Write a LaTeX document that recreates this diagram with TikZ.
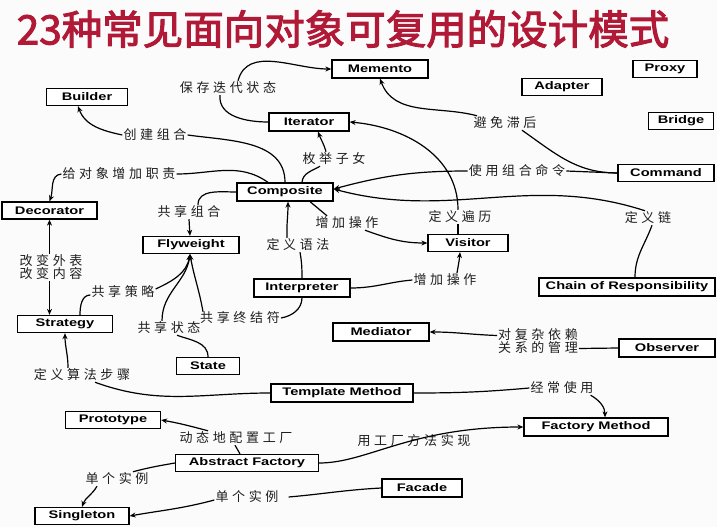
\documentclass[tikz,border=0pt]{standalone}
\usepackage{fontspec}
\usetikzlibrary{arrows.meta}
\newfontfamily\cjk{Noto Sans CJK SC}[LetterSpace=28]
\newfontfamily\titlef{Noto Sans CJK SC}[FakeBold=2.5]
\newfontfamily\boxf{Liberation Sans}[FakeStretch=1.33]
\definecolor{titlered}{RGB}{176,26,54}
\definecolor{bg}{RGB}{251,251,251}
\begin{document}
\begin{tikzpicture}[x=1pt,y=-1pt,
  box/.style={draw, line width=1.3pt, fill=white, font=\boxf\bfseries\fontsize{11}{11}\selectfont, inner sep=0pt, minimum height=18pt},
  lbl/.style={font=\cjk\fontsize{13}{13}\selectfont, inner sep=1pt, text=black!88},
  con/.style={line width=1.2pt},
  arr/.style={con, -{Stealth[length=6pt,width=5pt]}},
]
\fill[bg] (0,0) rectangle (717,527);
\useasboundingbox (0,0) rectangle (717,527);

\node[font=\titlef\fontsize{40.5}{40.5}\selectfont, text=titlered, inner sep=0pt] (title) at (343,29) {23种常见面向对象可复用的设计模式};

% boxes
\node[box, minimum width=96pt] (memento) at (380,69) {Memento};
\node[box, minimum width=64pt, minimum height=17pt] (proxy) at (665,69) {Proxy};
\node[box, minimum width=80pt, minimum height=17pt] (adapter) at (562,87) {Adapter};
\node[box, minimum width=65pt, minimum height=17pt] (bridge) at (681,121) {Bridge};
\node[box, minimum width=81pt, minimum height=17pt] (builder) at (87,97) {Builder};
\node[box, minimum width=80pt] (iterator) at (309,122) {Iterator};
\node[box, minimum width=96pt] (composite) at (285,192) {Composite};
\node[box, minimum width=96pt, minimum height=17pt] (command) at (666,173) {Command};
\node[box, minimum width=95pt, minimum height=17pt] (decorator) at (49.5,210.5) {Decorator};
\node[box, minimum width=96pt, minimum height=17pt] (flyweight) at (191,245) {Flyweight};
\node[box, minimum width=96pt] (interpreter) at (302,288) {Interpreter};
\node[box, minimum width=80pt, minimum height=17pt] (visitor) at (468,243) {Visitor};
\node[box, minimum width=176pt] (chain) at (627,287) {Chain of Responsibility};
\node[box, minimum width=95pt, minimum height=17pt] (strategy) at (65,324) {Strategy};
\node[box, minimum width=63pt, minimum height=17pt] (state) at (208,366) {State};
\node[box, minimum width=96pt] (mediator) at (381,332) {Mediator};
\node[box, minimum width=96pt] (observer) at (667,348) {Observer};
\node[box, minimum width=142pt] (template) at (342,393) {Template Method};
\node[box, minimum width=95pt, minimum height=17pt] (prototype) at (113,420) {Prototype};
\node[box, minimum width=143pt, minimum height=17pt] (abstract) at (247,463) {Abstract Factory};
\node[box, minimum width=144pt] (factorym) at (596,427) {Factory Method};
\node[box, minimum width=80pt] (facade) at (422,488) {Facade};
\node[box, minimum width=94pt, minimum height=17pt] (singleton) at (82,516) {Singleton};

% labels
\node[lbl] (lsave) at (228,88) {保存迭代状态};
\node[lbl] (lbuild) at (155,135) {创建组合};
\node[lbl] (ldeco) at (119,174) {给对象增加职责};
\node[lbl] (lenum) at (334,159) {枚举子女};
\node[lbl] (lavoid) at (505,123) {避免滞后};
\node[lbl] (lcmd) at (517,171) {使用组合命令};
\node[lbl] (lsharecomp) at (189,212) {共享组合};
\node[lbl] (ladd1) at (347,223) {增加操作};
\node[lbl] (ltrav) at (460,217) {定义遍历};
\node[lbl] (lchain) at (648,218) {定义链};
\node[lbl, align=center] (lchg) at (51,267.5) {改变外表\\[0pt]改变内容};
\node[lbl] (lgram) at (298,245) {定义语法};
\node[lbl] (ladd2) at (445,280) {增加操作};
\node[lbl] (lstrat) at (123,292) {共享策略};
\node[lbl] (lterm) at (240,318) {共享终结符};
\node[lbl] (lstate) at (169,328) {共享状态};
\node[lbl, align=center] (lobs) at (538,341.5) {对复杂依赖\\[0pt]关系的管理};
\node[lbl] (lalgo) at (82,375) {定义算法步骤};
\node[lbl] (lfreq) at (562,388) {经常使用};
\node[lbl] (lconf) at (236,438) {动态地配置工厂};
\node[lbl] (lfimpl) at (414,441) {用工厂方法实现};
\node[lbl] (lsing1) at (117,479) {单个实例};
\node[lbl] (lsing2) at (247,497) {单个实例};

% connectors
% Iterator -> Memento
\draw[con] ([xshift=-8pt]lsave.south) to[out=-95,in=180] (iterator.west);
\draw[arr] ([xshift=10pt]lsave.north) to[out=75,in=180] (memento.west);
% Composite -> Builder
\draw[con] (lbuild.east) to[out=-8,in=90] (composite.north);
\draw[arr] (lbuild.west) to[out=168,in=-70] ([xshift=-9pt]builder.south);
% Composite -> Decorator
\draw[con] (ldeco.east) to[out=0,in=145] ([xshift=-17pt]composite.north);
\draw[arr] (ldeco.west) to[out=185,in=70] (decorator.north);
% Composite -> Iterator
\draw[con] ([xshift=17pt]composite.north) to[out=85,in=-150] ([xshift=-14pt]lenum.south);
\draw[arr] ([xshift=-8pt]lenum.north) to[out=105,in=-70] ([xshift=9pt]iterator.south);
% Command -> Memento
\draw[con] (command.west) to[out=180,in=-35] ([xshift=17pt]lavoid.south);
\draw[arr] ([xshift=-28pt]lavoid.north) to[out=165,in=-70] (memento.south);
% Command -> Composite
\draw[con] (command.west) -- (lcmd.east);
\draw[arr] (lcmd.west) to[out=180,in=15] ([yshift=3pt]composite.east);
% Visitor -> Iterator
\draw[con] ([xshift=-10pt]visitor.north) -- ([xshift=-2pt]ltrav.south);
\draw[arr] ([xshift=-2pt]ltrav.north) to[out=90,in=-5] (iterator.east);
% Chain -> Composite
\draw[con] ([xshift=8pt]chain.north) to[out=90,in=-110] ([xshift=4pt]lchain.south);
\draw[arr] ([xshift=-3pt]lchain.north) to[out=162,in=-15] ([yshift=3pt]composite.east);
% Composite -> Visitor
\draw[con] ([xshift=25pt]composite.south) -- ([xshift=-20pt]ladd1.north);
\draw[arr] ([xshift=18pt]ladd1.south) to[out=-20,in=180] (visitor.west);
% Interpreter -> Visitor
\draw[con] (interpreter.east) to[out=0,in=185] (ladd2.west);
\draw[arr] ([xshift=12pt]ladd2.north) to[out=80,in=-95] ([xshift=-8pt]visitor.south);
% Interpreter -> Composite
\draw[con] (interpreter.north) to[out=90,in=-80] ([xshift=2pt]lgram.south);
\draw[arr] ([xshift=-11pt]lgram.north) to[out=92,in=-90] ([xshift=3pt]composite.south);
% Composite -> Flyweight
\draw[con] (composite.west) to[out=180,in=90] ([xshift=9pt]lsharecomp.north);
\draw[arr] (lsharecomp.south) -- ([xshift=-1pt]flyweight.north);
% Decorator <-> Strategy
\draw[arr] (lchg.north -| decorator.south) -- (decorator.south);
\draw[arr] (lchg.south -| decorator.south) -- (decorator.south |- strategy.north);
% Strategy -> Flyweight
\draw[con] ([xshift=15pt]strategy.north) to[out=90,in=180] ([yshift=-3pt]lstrat.west);
\draw[arr] ([yshift=3pt]lstrat.east) to[out=25,in=-100] ([xshift=-1pt]flyweight.south);
% State -> Flyweight
\draw[con] (state.north) to[out=90,in=-20] ([xshift=8pt]lstate.south);
\draw[arr] ([xshift=-7pt]lstate.north) to[out=90,in=-98] ([xshift=-1pt]flyweight.south);
% Interpreter -> Flyweight
\draw[con] (interpreter.south) to[out=-90,in=10] (lterm.east);
\draw[arr] ([xshift=4pt,yshift=-1pt]lterm.north west) to[out=100,in=-80] ([xshift=-1pt]flyweight.south);
% Template -> Strategy
\draw[con] (template.west) to[out=180,in=-20] ([xshift=13pt]lalgo.south);
\draw[arr] ([xshift=-14pt]lalgo.north) to[out=90,in=-90] (strategy.south);
% Observer -> Mediator
\draw[con] (observer.west) -- ([yshift=-7pt]lobs.east);
\draw[arr] ([yshift=6pt]lobs.west) to[out=178,in=0] (mediator.east);
% Template -> Factory Method
\draw[con] (template.east) to[out=0,in=185] (lfreq.west);
\draw[arr] ([xshift=-4pt]lfreq.south east) to[out=-30,in=90] ([xshift=9pt]factorym.north);
% Abstract -> Prototype
\draw[con] ([xshift=-7pt]abstract.north) -- ([xshift=-1pt]lconf.south);
\draw[arr] ([xshift=-28pt]lconf.north) to[out=165,in=-10] (prototype.east);
% Abstract -> Factory Method
\draw[arr] (abstract.east) to[out=0,in=180,out looseness=0.6,in looseness=1.4] (factorym.west);
% Abstract -> Singleton
\draw[con] (abstract.west) to[out=190,in=15] ([xshift=16pt]lsing1.north);
\draw[arr] ([xshift=-20pt]lsing1.south) to[out=-120,in=70] (singleton.north);
% Facade -> Singleton
\draw[con] (facade.west) to[out=183,in=5] ([xshift=9pt]lsing2.east);
\draw[arr] ([yshift=-3pt]lsing2.west) to[out=195,in=10] (singleton.east);
\end{tikzpicture}
\end{document}
